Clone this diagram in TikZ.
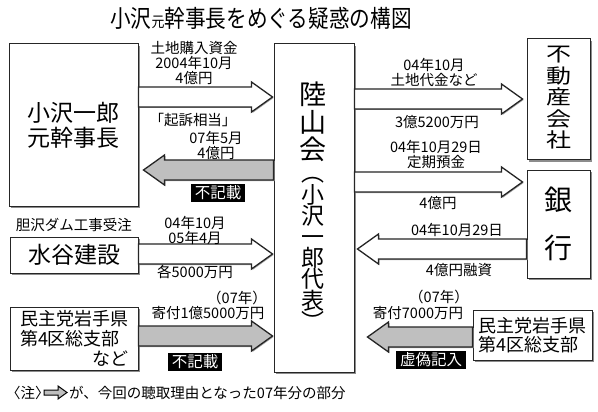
\documentclass[tikz,border=0pt]{standalone}
\usepackage{fontspec}
\setmainfont{Noto Sans CJK JP}
\newfontfamily\titlefont[FakeStretch=0.86]{Noto Sans CJK JP}
\newfontfamily\widefont[FakeStretch=1.25]{Noto Sans CJK JP}
\usetikzlibrary{shadows,calc}
\lineskiplimit=-100pt

\tikzset{
  box/.style={draw=black!85, line width=1pt, fill=white, inner sep=0pt,
    drop shadow={shadow xshift=2pt, shadow yshift=-2pt, fill=black!45, opacity=1}},
  lbl/.style={font=\fontsize{14.5}{15}\selectfont, inner sep=0pt, align=center},
  tag/.style={fill=black, text=white, font=\fontsize{15.5}{16}\selectfont, inner xsep=4pt, inner ysep=1.5pt},
  whitearrow/.style={draw=black!85, line width=1.3pt, fill=white, line join=miter,
    drop shadow={shadow xshift=1pt, shadow yshift=-1pt, fill=black!35, opacity=1}},
  grayarrow/.style={whitearrow, fill=black!25},
}

% #1 style, #2 from, #3 to, #4 height, #5 gap before the target
\newcommand\fatarrow[5]{%
  \draw[#1] let \p1=(#2 |- 0,#4), \p2=(#3 |- 0,#4),
      \n1={ifthenelse(\x2>\x1,1,-1)} in
    (\x1,\y1+10) -- (\x2-\n1*#5-\n1*21,\y1+10) -- (\x2-\n1*#5-\n1*21,\y1+15)
    -- (\x2-\n1*#5,\y1) -- (\x2-\n1*#5-\n1*21,\y1-15) -- (\x2-\n1*#5-\n1*21,\y1-10)
    -- (\x1,\y1-10) -- cycle;}

\begin{document}
\begin{tikzpicture}[x=1pt, y=-1pt]
  \useasboundingbox[fill=white] (0,0) rectangle (598,412);
  % title
  \node[font=\titlefont\fontsize{24}{24}\selectfont] (title) at (261,18)
    {小沢{\fontsize{15}{15}\selectfont 元}幹事長をめぐる疑惑の構図};

  % boxes
  \node[box, minimum width=129, minimum height=162, align=center,
    font=\fontsize{23}{25}\selectfont] (ozawa) at (73.5,125) {小沢一郎\\元幹事長};
  \node[box, minimum width=80, minimum height=328] (rikuzan) at (314,208) {};
  \node[box, minimum width=63, minimum height=121] (fudosan) at (558.5,99.5) {};
  \node[box, minimum width=63, minimum height=108] (ginko) at (558.5,224) {};
  \node[box, minimum width=128, minimum height=36,
    font=\fontsize{23}{25}\selectfont] (mizutani) at (74,255) {水谷建設};
  \node[box, minimum width=128, minimum height=63, align=left,
    font=\fontsize{18}{20}\selectfont] (minshuL) at (74,338.5)
    {民主党岩手県\\第4区総支部\\\makebox[6em][r]{など}};
  \node[box, minimum width=119, minimum height=50, align=left,
    font=\fontsize{18}{19}\selectfont] (minshuR) at (532.5,335) {民主党岩手県\\第4区総支部};

  % vertical texts
  \node[align=center, inner sep=0pt, font=\fontsize{27}{27.5}\selectfont]
    (rikuzanA) at (313,122) {陸\\山\\会};
  \node[align=center, inner sep=0pt, font=\fontsize{23}{21.2}\selectfont]
    (rikuzanB) at (313,254) {︵\\小\\沢\\一\\郎\\代\\表\\︶};
  \node[align=center, inner sep=0pt, font=\widefont\fontsize{20}{21.5}\selectfont]
    (fudosanT) at (558.5,98) {不\\動\\産\\会\\社};
  \node[align=center, inner sep=0pt, font=\fontsize{28}{48}\selectfont]
    (ginkoT) at (558.5,224) {銀\\行};

  % arrows
  \fatarrow{whitearrow}{ozawa.east}{rikuzan.west}{97}{1}
  \fatarrow{grayarrow}{rikuzan.west}{ozawa.east}{170}{5}
  \fatarrow{whitearrow}{rikuzan.east}{fudosan.west}{99}{4}
  \fatarrow{whitearrow}{rikuzan.east}{ginko.west}{182}{4}
  \fatarrow{whitearrow}{ginko.west}{rikuzan.east}{249}{3}
  \fatarrow{whitearrow}{mizutani.east}{rikuzan.west}{254}{1}
  \fatarrow{grayarrow}{minshuL.east}{rikuzan.west}{336}{1}
  \fatarrow{grayarrow}{minshuR.west}{rikuzan.east}{337}{13}

  % labels
  \node[lbl] (l1a) at (194,63) {土地購入資金\\2004年10月\\4億円};
  \node[lbl] (l1b) at (193,120) {「起訴相当」};
  \node[lbl] (l2a) at (216,145) {07年5月\\4億円};
  \node[tag] (l2b) at (218,193) {不記載};
  \node[lbl] (l3a) at (434,72) {04年10月\\土地代金など};
  \node[lbl] (l3b) at (437,122) {3億5200万円};
  \node[lbl] (l4a) at (436,154) {04年10月29日\\定期預金};
  \node[lbl] (l4b) at (438,203) {4億円};
  \node[lbl] (l5a) at (457,230) {04年10月29日};
  \node[lbl] (l5b) at (459,270) {4億円融資};
  \node[lbl] (l6a) at (74,225) {胆沢ダム工事受注};
  \node[lbl] (l6b) at (195,230) {04年10月\\05年4月};
  \node[lbl] (l6c) at (195,272) {各5000万円};
  \node[lbl] (l7a) at (237,298) {（07年）};
  \node[lbl] (l7b) at (208,313) {寄付1億5000万円};
  \node[tag] (l7c) at (195,362) {不記載};
  \node[lbl] (l8a) at (439,297) {（07年）};
  \node[lbl] (l8b) at (418,313) {寄付7000万円};
  \node[tag] (l8c) at (431,360) {虚偽記入};

  % note
  \node[lbl, anchor=west] (note1) at (6,393) {〈注〉};
  \draw[line width=1pt, fill=black!25] (44,390) -- (58,390) -- (58,386) -- (67,392.5)
    -- (58,399) -- (58,395) -- (44,395) -- cycle;
  \node[lbl, anchor=west] (note2) at (69,393) {が、今回の聴取理由となった07年分の部分};
\end{tikzpicture}
\end{document}
